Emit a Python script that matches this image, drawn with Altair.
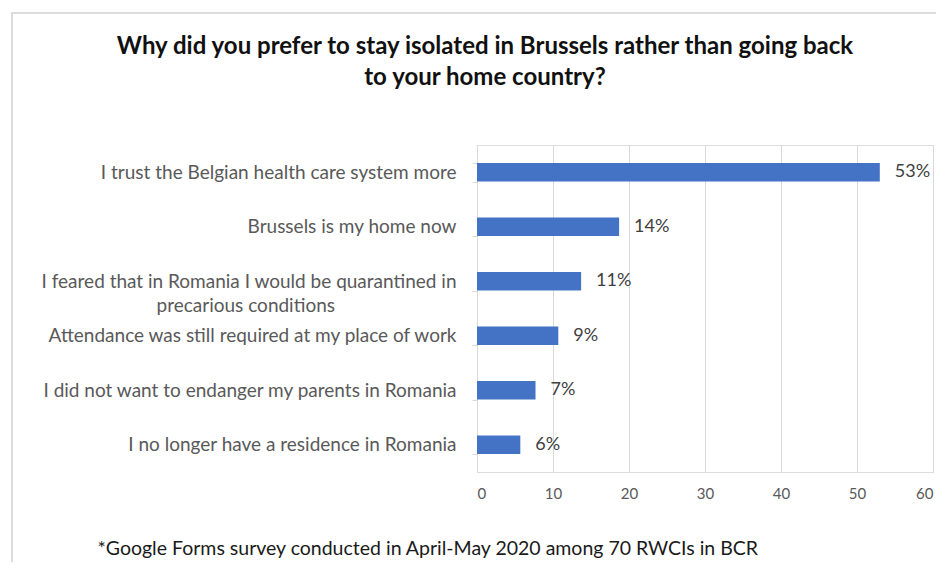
import altair as alt
import pandas as pd

categories = [
    "I trust the Belgian health care system more",
    "Brussels is my home now ",
    "I feared that in Romania  I would be quarantined in\nprecarious conditions",
    "Attendance was still required at my place of work",
    "I did not want to endanger my parents in Romania",
    "I no longer have a residence in Romania",
]
values = [53, 18.7, 13.7, 10.7, 7.7, 5.7]
value_labels = ["53%", "14%", "11%", "9%", "7%", "6%"]
x_ticks = [0, 10, 20, 30, 40, 50, 60]

title_lines = [
    "Why did you prefer to stay isolated in Brussels rather than going back",
    "to your home country?",
]
footnote = "*Google Forms survey conducted in April-May 2020 among 70 RWCIs in BCR"

# blank (non-whitespace) padding so the wrapped second line sits centred like the reference
PAD = "\u2002" + "\u2800" * 8
disp = [c.replace("\nprecarious conditions", "\nprecarious conditions" + PAD) for c in categories]

df = pd.DataFrame({"cat": disp, "value": values, "label": value_labels})

FONT = "Lato"
W, H = 456, 327

y_enc = alt.Y(
    "cat:N",
    sort=disp,
    scale=alt.Scale(paddingInner=0.66, paddingOuter=0.33),
    axis=alt.Axis(
        title=None,
        labelExpr="split(datum.label, '\\n')",
        labelFont=FONT,
        labelFontSize=19,
        labelColor="#595959",
        labelLineHeight=24,
        labelPadding=16,
        labelLimit=500,
        tickBand="extent",
        tickSize=5,
        tickColor="#d9d9d9",
        domainColor="#d9d9d9",
        grid=False,
    ),
)

x_enc = alt.X(
    "value:Q",
    scale=alt.Scale(domain=[0, 60], nice=False),
    axis=alt.Axis(
        values=x_ticks,
        title=footnote,
        titleFont=FONT,
        titleFontSize=19.5,
        titleFontWeight="normal",
        titleColor="#1a1a1a",
        titleX=-380,
        titleY=76,
        titleAlign="left",
        titleBaseline="middle",
        labelFont=FONT,
        labelFontSize=15,
        labelColor="#595959",
        labelPadding=14,
        ticks=False,
        domain=False,
        grid=True,
        gridColor="#d9d9d9",
        gridWidth=1,
    ),
)

border = alt.Chart(df).mark_rect(fill=None, stroke="#dcdcdc", strokeWidth=1.5).encode(
    x=alt.value(-465), x2=alt.value(W + 60), y=alt.value(-132), y2=alt.value(H + 150)
)

bars = alt.Chart(df).mark_bar(color="#4472C4").encode(x=x_enc, y=y_enc)

texts = alt.Chart(df).mark_text(
    align="left", baseline="middle", dx=15, font=FONT, fontSize=18, color="#404040"
).encode(x="value:Q", y=alt.Y("cat:N", sort=disp), text="label:N")

chart = (
    alt.layer(border, bars, texts)
    .properties(
        width=W,
        height=H,
        title=alt.Title(
            text=title_lines,
            font=FONT,
            fontSize=24,
            fontWeight="bold",
            color="#111111",
            anchor="middle",
            frame="group",
            dx=-220,
            baseline="bottom",
            offset=-102,
            lineHeight=31,
        ),
        autosize=alt.AutoSizeParams(type="none"),
        padding={"left": 469, "top": 137, "right": 3, "bottom": 90},
    )
    .configure_view(stroke=None)
    .configure(background="white")
)

chart.save("out.html", embed_options={"renderer": "svg", "actions": False})
